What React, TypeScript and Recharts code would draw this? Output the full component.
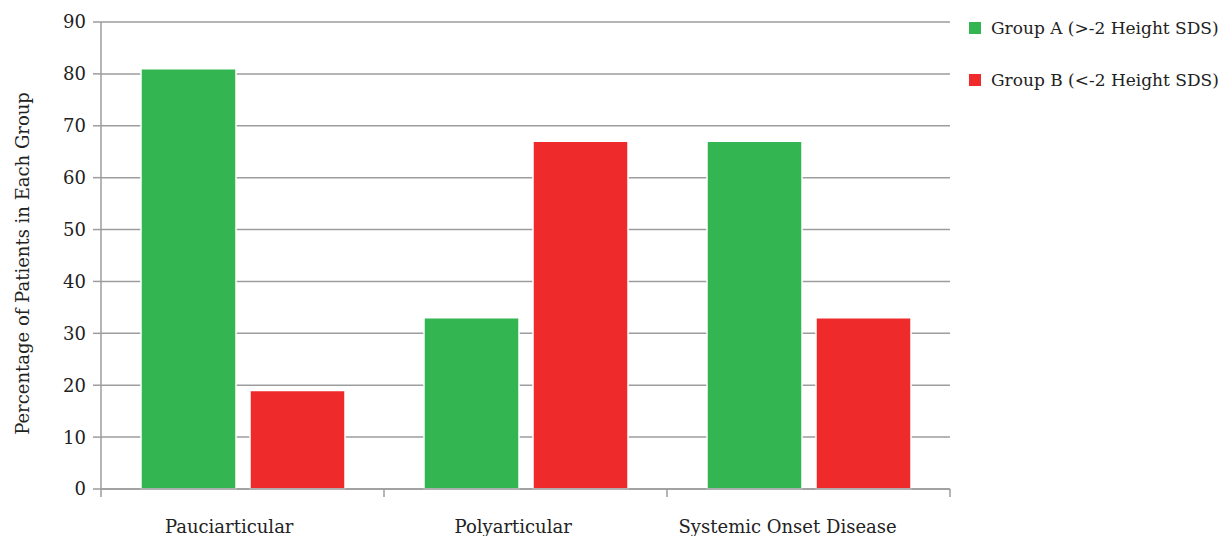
import React from "react";
import { BarChart, Bar, XAxis, YAxis, CartesianGrid } from "recharts";

const categories = ["Pauciarticular", "Polyarticular", "Systemic Onset Disease"];
const groupA = [81, 33, 67];
const groupB = [19, 67, 33];
const yTicks = [0, 10, 20, 30, 40, 50, 60, 70, 80, 90];
const seriesNames = ["Group A (>-2 Height SDS)", "Group B (<-2 Height SDS)"];
const colors = ["#33b552", "#ee2a2b"];

const data = categories.map((c, i) => ({ name: c, a: groupA[i], b: groupB[i] }));

const FONT = "'DejaVu Serif', serif";
const GRAY = "#9d9d9f";
const TEXT = "#222";

const CatTick = (props: any) => {
  const { x, y, payload, index } = props;
  const off = payload && payload.offset ? payload.offset : 0;
  const last = index === categories.length - 1;
  const y0 = y - 8;
  const label = String(payload.value);
  return (
    <g>
      <line x1={x - off} x2={x - off} y1={y0} y2={y0 + 8} stroke={GRAY} strokeWidth={1.5} />
      {last && <line x1={x + off} x2={x + off} y1={y0} y2={y0 + 8} stroke={GRAY} strokeWidth={1.5} />}
      <text x={x} dx={-label.length * 0.95} y={y0 + 44} textAnchor="middle" fill={TEXT} fontSize={18} fontFamily={FONT}>
        {label}
      </text>
    </g>
  );
};

const YLabel = (props: any) => {
  const { viewBox } = props;
  const cx = 22;
  const cy = viewBox ? viewBox.y + viewBox.height / 2 + 8 : 263;
  return (
    <text
      x={cx}
      y={cy}
      transform={`rotate(-90, ${cx}, ${cy})`}
      textAnchor="middle"
      dominantBaseline="central"
      fill={TEXT}
      fontSize={18}
      fontFamily={FONT}
    >
      Percentage of Patients in Each Group
    </text>
  );
};

export default function App() {
  return (
    <div style={{ position: "absolute", left: 0, top: 0, width: 1221, height: 536, background: "#fff" }}>
      <BarChart
        width={1221}
        height={536}
        data={data}
        margin={{ top: 22, right: 271, bottom: 0, left: 0 }}
        barCategoryGap={40}
        barGap={14}
      >
        <CartesianGrid vertical={false} stroke={GRAY} strokeWidth={1.5} />
        <XAxis
          dataKey="name"
          height={47}
          tickLine={false}
          tickSize={8}
          tickMargin={0}
          axisLine={{ stroke: GRAY, strokeWidth: 1.5 }}
          tick={<CatTick />}
          interval={0}
        />
        <YAxis
          width={101}
          domain={[0, 90]}
          ticks={yTicks}
          tickSize={8}
          tickMargin={7}
          tickLine={{ stroke: GRAY, strokeWidth: 1.5 }}
          axisLine={{ stroke: GRAY, strokeWidth: 1.5 }}
          tick={{ fill: TEXT, fontSize: 18, fontFamily: FONT }}
          label={<YLabel />}
        />
        <Bar dataKey="a" name={seriesNames[0]} fill={colors[0]} stroke="#fff" strokeWidth={1.5} isAnimationActive={false} />
        <Bar dataKey="b" name={seriesNames[1]} fill={colors[1]} stroke="#fff" strokeWidth={1.5} isAnimationActive={false} />
      </BarChart>
      <div style={{ position: "absolute", left: 969, top: 2, fontFamily: FONT, fontSize: 17, color: TEXT, whiteSpace: "nowrap" }}>
        {seriesNames.map((n, i) => (
          <div key={n} style={{ display: "flex", alignItems: "center", height: 52 }}>
            <span style={{ display: "inline-block", width: 12, height: 12, background: colors[i], marginRight: 10 }} />
            <span>{n}</span>
          </div>
        ))}
      </div>
    </div>
  );
}
